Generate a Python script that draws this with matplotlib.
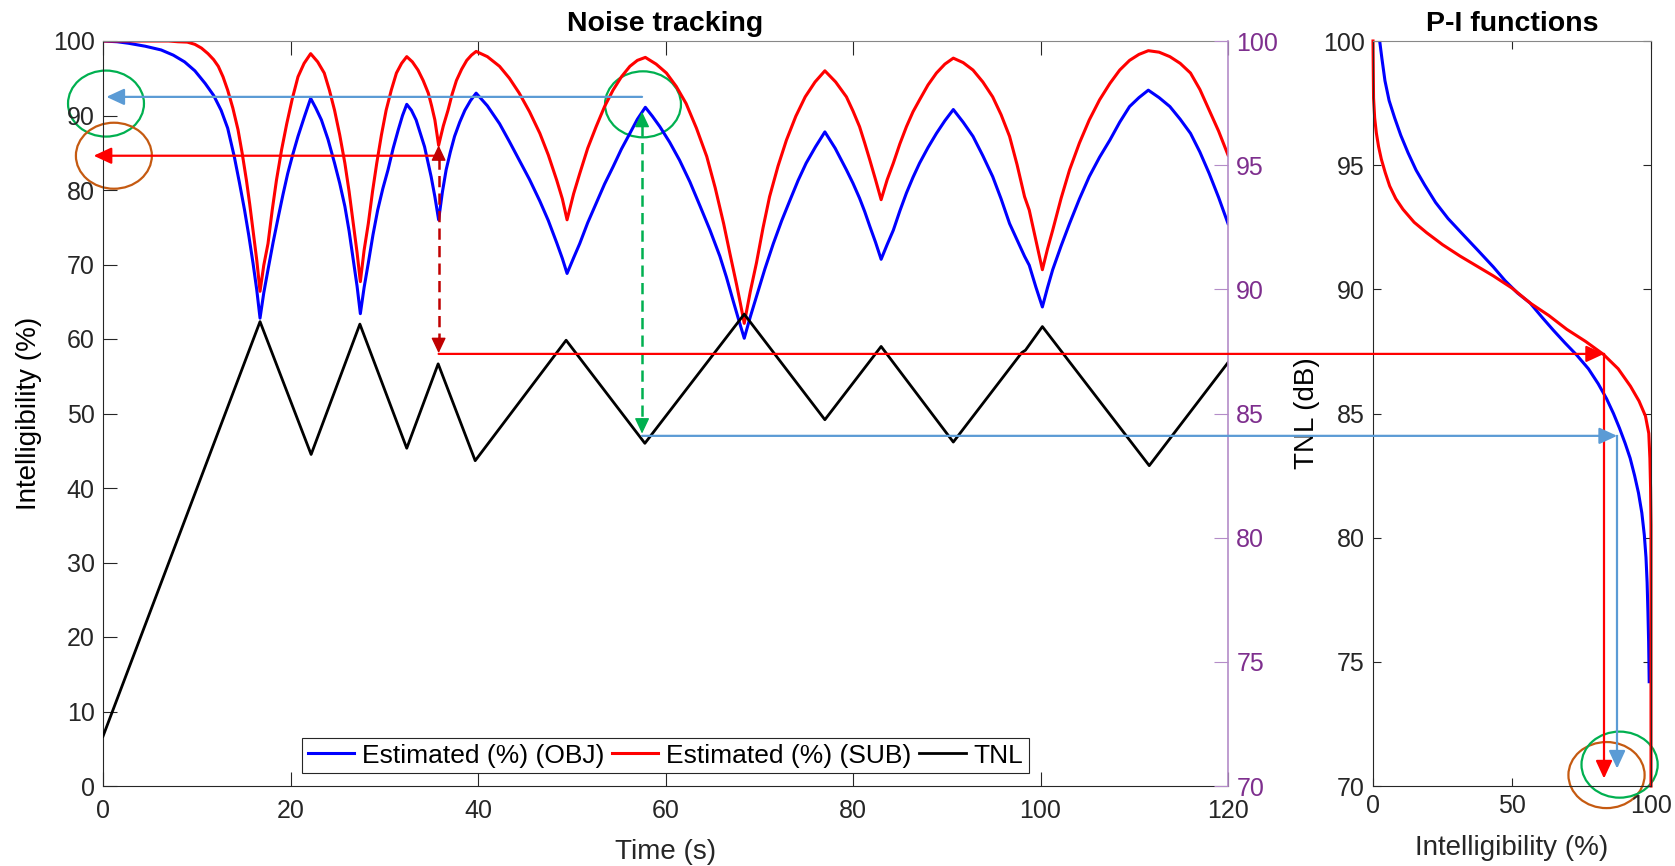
import numpy as np
import matplotlib
matplotlib.use('Agg')
import matplotlib.pyplot as plt
from matplotlib.patches import Ellipse, ConnectionPatch

plt.rcParams['font.family'] = ['Liberation Sans', 'DejaVu Sans']

# tracked noise level (dB) over time (s)
tnl_time = [0, 16.75, 22.2, 27.4, 32.4, 35.75, 39.7, 49.4, 57.8, 68.4, 77.0,
            83.0, 90.7, 98.0, 98.4, 100.2, 111.6, 120.0]
tnl_level = [72.0, 88.7, 83.35, 88.6, 83.6, 87.0, 83.1, 87.95, 83.8, 89.0, 84.75,
             87.7, 83.85, 87.45, 87.55, 88.5, 82.9, 87.05]

# estimated intelligibility (%), objective P-I function
obj_time = [0, 1.5, 2.7, 4.5, 6.2, 7.5, 8.7, 9.8, 10.9, 11.8, 12.6, 13.3, 14.0, 14.55,
            15.1, 15.55, 16.0, 16.4, 16.75,
            17.15, 17.6, 18.15, 18.7, 19.2, 19.7, 20.25, 20.8, 21.5, 22.15,
            22.7, 23.3, 24.0, 24.7, 25.25, 25.8, 26.25, 26.7, 27.1, 27.45,
            27.85, 28.3, 28.8, 29.3, 29.85, 30.4, 30.95, 31.5, 31.95, 32.4,
            32.9, 33.4, 34.3, 35.0, 35.4, 35.8,
            36.2, 36.6, 37.05, 37.5, 38.05, 38.6, 39.2, 39.8,
            41.0, 42.3, 43.35, 44.4, 45.5, 46.6, 47.5, 48.4, 49.0, 49.5,
            50.2, 50.85, 51.7, 52.6, 53.5, 54.4, 55.3, 56.2, 57.0, 57.85,
            58.6, 59.4, 60.45, 61.5, 62.6, 63.7, 64.75, 65.8, 66.5, 67.2, 67.8, 68.4,
            69.05, 69.7, 70.6, 71.5, 72.4, 73.3, 74.15, 75.0, 76.0, 77.0,
            78.1, 79.3, 80.0, 80.7, 81.25, 81.8, 82.4, 83.0,
            83.65, 84.3, 85.0, 85.7, 86.4, 87.1, 88.0, 88.9, 89.8, 90.7,
            91.75, 92.8, 93.85, 94.9, 95.8, 96.7, 97.5, 98.3, 98.8, 99.5, 100.2,
            100.75, 101.3, 102.2, 103.1, 104.15, 105.2, 106.3, 107.4, 108.45, 109.5,
            110.5, 111.5,
            112.65, 113.8, 114.9, 116.0, 117.0, 118.0, 119.0, 120.0]
obj_est = [100.0, 99.9, 99.7, 99.3, 98.8, 98.1, 97.2, 96.0, 94.3, 92.7, 90.7, 88.3, 84.5, 81.0,
           77.3, 73.9, 70.2, 66.6, 62.8,
           66.2, 69.3, 73.0, 76.4, 79.4, 82.2, 84.8, 87.2, 89.9, 92.3,
           91.0, 89.4, 86.8, 83.6, 80.9, 77.8, 74.5, 70.6, 67.1, 63.4,
           66.9, 70.2, 74.0, 77.3, 80.2, 82.7, 85.6, 88.1, 90.0, 91.5,
           90.7, 89.4, 85.8, 81.8, 79.1, 76.0,
           79.7, 82.7, 85.1, 87.2, 89.1, 90.7, 92.0, 93.0,
           91.3, 88.9, 86.5, 84.0, 81.4, 78.5, 75.9, 72.9, 70.8, 68.8,
           70.9, 72.8, 75.6, 78.2, 80.8, 83.1, 85.5, 87.6, 89.5, 91.1,
           89.9, 88.5, 86.4, 84.0, 81.1, 77.8, 74.6, 71.1, 68.3, 65.2, 62.6, 60.1,
           63.0, 65.7, 69.4, 72.8, 75.9, 78.7, 81.3, 83.6, 85.8, 87.8,
           85.6, 82.7, 80.9, 78.9, 77.1, 75.1, 73.0, 70.7,
           72.7, 74.6, 77.2, 79.6, 81.7, 83.6, 85.7, 87.6, 89.3, 90.8,
           89.1, 87.2, 84.6, 81.8, 78.8, 75.5, 73.3, 71.1, 69.9, 67.0, 64.3,
           66.9, 69.3, 72.5, 75.5, 78.8, 81.8, 84.4, 86.7, 89.1, 91.2,
           92.4, 93.4,
           92.4, 91.2, 89.5, 87.6, 85.1, 82.2, 79.0, 75.5]

# estimated intelligibility (%), subjective P-I function
sub_time = [0, 7.0, 8.0, 9.0, 9.8, 10.5, 11.2, 11.8, 12.3, 12.8, 13.3, 13.85, 14.4, 14.85,
            15.3, 15.65, 16.0, 16.4, 16.75,
            17.15, 17.6, 18.05, 18.5, 19.05, 19.6, 20.2, 20.8, 21.45, 22.15,
            22.9, 23.6, 24.15, 24.7, 25.25, 25.8, 26.25, 26.7, 27.1, 27.45,
            27.85, 28.3, 28.75, 29.2, 29.7, 30.2, 30.75, 31.3, 31.85, 32.4,
            33.0, 33.6, 34.15, 34.7, 35.05, 35.4, 35.8,
            36.3, 36.8, 37.25, 37.7, 38.25, 38.8, 39.3, 39.8,
            41.0, 42.3, 43.35, 44.4, 45.5, 46.6, 47.5, 48.4, 49.0, 49.5,
            50.2, 50.85, 51.7, 52.6, 53.5, 54.4, 55.3, 56.2, 57.0, 57.85,
            59.0, 60.1, 61.15, 62.2, 63.3, 64.4, 65.3, 66.2, 66.9, 67.6, 68.0, 68.4,
            69.05, 69.7, 70.4, 71.1, 72.0, 72.9, 73.9, 74.9, 75.95, 77.0,
            78.15, 79.3, 80.0, 80.7, 81.25, 81.8, 82.4, 83.0,
            83.65, 84.3, 85.0, 85.7, 86.4, 87.1, 88.0, 88.9, 89.8, 90.7,
            91.75, 92.8, 93.85, 94.9, 95.8, 96.7, 97.5, 98.3, 98.8, 99.5, 100.2,
            100.75, 101.3, 102.2, 103.1, 104.15, 105.2, 106.3, 107.4, 108.45, 109.5,
            110.5, 111.5,
            112.65, 113.8, 114.9, 116.0, 117.0, 118.0, 119.0, 120.0]
sub_est = [100.0, 100.0, 99.9, 99.85, 99.55, 99.05, 98.3, 97.5, 96.6, 95.2, 93.4, 91.0, 88.1, 84.9,
           81.3, 78.1, 74.6, 70.6, 66.4,
           69.9, 72.8, 77.3, 81.3, 85.4, 88.9, 92.3, 95.2, 97.0, 98.3,
           97.2, 95.7, 93.4, 90.7, 87.4, 83.6, 79.8, 75.5, 71.6, 67.7,
           71.9, 75.5, 79.8, 83.6, 87.4, 90.7, 93.4, 95.7, 97.0, 97.9,
           97.2, 96.1, 94.7, 93.0, 91.3, 89.4, 86.0,
           88.6, 90.7, 92.9, 94.7, 96.2, 97.4, 98.1, 98.6,
           97.9, 96.6, 95.0, 93.0, 90.5, 87.6, 84.7, 81.3, 78.8, 76.0,
           79.5, 82.2, 85.6, 88.5, 91.2, 93.4, 95.2, 96.6, 97.4, 97.8,
           96.9, 95.7, 93.9, 91.6, 88.3, 84.5, 80.3, 75.5, 71.3, 67.2, 64.7, 62.1,
           66.4, 70.2, 74.9, 79.1, 83.2, 86.7, 89.9, 92.5, 94.5, 96.0,
           94.5, 92.5, 90.6, 88.5, 86.3, 84.0, 81.4, 78.7,
           81.4, 83.6, 86.2, 88.5, 90.5, 92.1, 94.1, 95.7, 96.9, 97.7,
           97.1, 96.1, 94.5, 92.5, 90.1, 87.2, 83.4, 79.1, 77.3, 73.3, 69.3,
           72.1, 74.6, 78.9, 82.7, 86.3, 89.4, 92.1, 94.3, 96.1, 97.4,
           98.2, 98.7,
           98.5, 97.9, 97.0, 95.7, 93.5, 90.7, 87.9, 84.7]

# P-I functions: intelligibility (%) against TNL (dB)
pi_obj_int = [2.4, 3.2, 4.3, 5.8, 7.8, 10.0, 12.6, 15.5, 18.6, 22.5, 27.0, 32.0,
              37.9, 43.3, 47.5, 52.0, 56.5, 61.0, 64.9, 69.0, 73.3, 77.5, 81.0,
              84.0, 86.5, 88.7, 90.7, 92.5, 94.1, 95.5, 96.7, 97.6, 98.2, 98.6,
              98.9, 99.15, 99.35]
pi_obj_tnl = [100.0, 99.3, 98.4, 97.6, 96.9, 96.2, 95.5, 94.8, 94.2, 93.5, 92.85, 92.25,
              91.55, 90.9, 90.35, 89.85, 89.45, 88.85, 88.35, 87.85, 87.35, 86.8, 86.2,
              85.6, 85.0, 84.4, 83.8, 83.2, 82.5, 81.8, 81.0, 80.1, 79.2, 78.2,
              77.0, 75.8, 74.2]
pi_sub_int = [0.0, 0.1, 0.2, 0.6, 1.2, 2.0, 3.0, 4.4, 6.0, 8.2, 10.8, 14.8, 19.3,
              25.0, 31.3, 37.3, 43.3, 50.0, 56.5, 63.2, 69.7, 76.5, 82.9, 88.2,
              92.6, 95.7, 98.0, 99.2, 99.6, 99.85, 100.0, 100.0]
pi_sub_tnl = [100.0, 98.8, 97.7, 96.9, 96.3, 95.75, 95.24, 94.7, 94.16, 93.65, 93.22,
              92.7, 92.28, 91.8, 91.34, 90.94, 90.54, 90.05, 89.45, 88.95, 88.39,
              87.9, 87.38, 86.8, 86.1, 85.5, 84.9, 84.2, 83.2, 82.0, 80.5, 70.0]

legend_labels = ['Estimated (%) (OBJ)', 'Estimated (%) (SUB)', 'TNL']

# worked example: read-off points for the two P-I functions
sub_t, sub_tnl, sub_read, sub_pi = 35.8, 87.4, 84.6, 83.1
obj_t, obj_tnl, obj_read, obj_pi = 57.5, 84.1, 92.5, 87.8

BLUE, RED, LBLUE = '#0000FF', '#FF0000', '#5B9BD5'
DRED, GREEN, ORANGE = '#C00000', '#00B050', '#C55A11'
PURPLE, PURPLE_LINE = '#7E2F8E', '#B48CC8'
AXC = '#262626'

fig = plt.figure(figsize=(16.75, 8.66), dpi=100)
ax = fig.add_axes([103 / 1675, 80 / 866, 1125 / 1675, 745 / 866])
ax2 = ax.twinx()
axp = fig.add_axes([1373 / 1675, 80 / 866, 278 / 1675, 745 / 866])

l1, = ax.plot(obj_time, obj_est, color=BLUE, lw=2.2)
l2, = ax.plot(sub_time, sub_est, color=RED, lw=2.2)
l3, = ax2.plot(tnl_time, tnl_level, color='black', lw=2.0)

ax.set_xlim(0, 120)
ax.set_ylim(0, 100)
ax.set_xticks(np.arange(0, 121, 20))
ax.set_yticks(np.arange(0, 101, 10))
ax2.set_ylim(70, 100)
ax2.set_yticks(np.arange(70, 101, 5))

ax.tick_params(axis='x', direction='in', length=10, width=0.8, top=True,
               labelsize=18, pad=9, colors=AXC)
ax.tick_params(axis='y', direction='in', length=10, width=0.8, right=False,
               labelsize=18, pad=6, colors=AXC)
ax2.tick_params(axis='y', direction='in', length=10, width=0.8, colors=PURPLE_LINE,
                labelcolor=PURPLE, labelsize=18, pad=6)
ax.spines['right'].set_visible(False)
ax.spines['top'].set_color('#888888')
for s in ['left', 'bottom']:
    ax.spines[s].set_color(AXC)
for s in ['left', 'top', 'bottom']:
    ax2.spines[s].set_visible(False)
ax2.spines['right'].set_color(PURPLE_LINE)
ax2.spines['right'].set_linewidth(1.2)

ax.set_xlabel('Time (s)', fontsize=20, color=AXC, labelpad=12)
ax.set_ylabel('Intelligibility (%)', fontsize=20, color='black', labelpad=8)
ax.set_title('Noise tracking', fontsize=20.5, fontweight='bold', pad=7)

leg = ax2.legend([l1, l2, l3], legend_labels, loc='lower center',
                 bbox_to_anchor=(0.5, 0.0175), ncol=3, fontsize=19,
                 frameon=True, fancybox=False, edgecolor=AXC, framealpha=1,
                 handlelength=1.75, handletextpad=0.3, columnspacing=0.3,
                 borderpad=0.2, borderaxespad=0)
leg.get_frame().set_linewidth(0.8)

# P-I panel
axp.plot(pi_obj_int, pi_obj_tnl, color=BLUE, lw=2.2)
axp.plot(pi_sub_int, pi_sub_tnl, color=RED, lw=2.2, clip_on=False)
axp.set_xlim(0, 100)
axp.set_ylim(70, 100)
axp.set_xticks([0, 50, 100])
axp.set_yticks(np.arange(70, 101, 5))
axp.tick_params(direction='in', length=6, width=0.8, top=True, right=True,
                labelsize=18, pad=6, colors=AXC)
for s in axp.spines.values():
    s.set_color(AXC)
axp.spines['top'].set_color('#888888')
axp.set_xlabel('Intelligibility (%)', fontsize=20, color=AXC, labelpad=12)
axp.set_ylabel('TNL (dB)', fontsize=20, color='black', labelpad=2)
axp.set_title('P-I functions', fontsize=20.5, fontweight='bold', pad=7)

head = '-|>,head_length=1.08,head_width=0.5'
small_head = '-|>,head_length=0.95,head_width=0.45'


def arrow(axis, tip, tail, color, style=head, lw=1.6):
    axis.annotate('', xy=tip, xytext=tail, annotation_clip=False,
                  arrowprops=dict(arrowstyle=style, color=color, lw=lw,
                                  shrinkA=0, shrinkB=0, mutation_scale=10,
                                  clip_on=False))


# horizontal read-outs towards the intelligibility axis
arrow(ax, (0.36, obj_read), (obj_t, obj_read), LBLUE)
arrow(ax, (-1.0, sub_read), (sub_t, sub_read), RED)

# dashed vertical links between the curves and the TNL trace
ax.plot([sub_t, sub_t], [84.3, 59.8], color=DRED, lw=1.8, ls=(0, (4.5, 2.5)))
arrow(ax, (sub_t, 86.0), (sub_t, 84.0), DRED, small_head, 1.0)
arrow(ax, (sub_t, 58.1), (sub_t, 60.1), DRED, small_head, 1.0)
ax.plot([obj_t, obj_t], [88.7, 49.1], color=GREEN, lw=1.8, ls=(0, (4.5, 2.5)))
arrow(ax, (obj_t, 90.5), (obj_t, 88.5), GREEN, small_head, 1.0)
arrow(ax, (obj_t, 47.3), (obj_t, 49.3), GREEN, small_head, 1.0)

# TNL carried across to the P-I functions
for t0, lvl, pi_x, col in [(sub_t, sub_tnl, sub_pi, RED), (obj_t, obj_tnl, obj_pi, LBLUE)]:
    con = ConnectionPatch(xyA=(t0, lvl), coordsA=ax2.transData,
                          xyB=(pi_x, lvl), coordsB=axp.transData,
                          arrowstyle=head, color=col, lw=1.6,
                          shrinkA=0, shrinkB=0, mutation_scale=10)
    fig.add_artist(con)

axp.plot([sub_pi, sub_pi], [sub_tnl, 71.0], color=RED, lw=1.6)
arrow(axp, (sub_pi, 70.3), (sub_pi, 71.0), RED)
axp.plot([obj_pi, obj_pi], [obj_tnl, 71.4], color=LBLUE, lw=1.6)
arrow(axp, (obj_pi, 70.7), (obj_pi, 71.4), LBLUE)

# circles marking the read-off values
for cx, cy, col in [(0.32, 91.6, GREEN), (1.16, 84.6, ORANGE), (57.6, 91.5, GREEN)]:
    ax.add_patch(Ellipse((cx, cy), 8.1, 8.86, fill=False, edgecolor=col,
                         lw=1.6, clip_on=False))
for cx, cy, col in [(84.0, 70.44, ORANGE), (88.7, 70.86, GREEN)]:
    axp.add_patch(Ellipse((cx, cy), 27.4, 2.66, fill=False, edgecolor=col,
                          lw=1.6, clip_on=False))

fig.savefig('out.png', dpi=100)
